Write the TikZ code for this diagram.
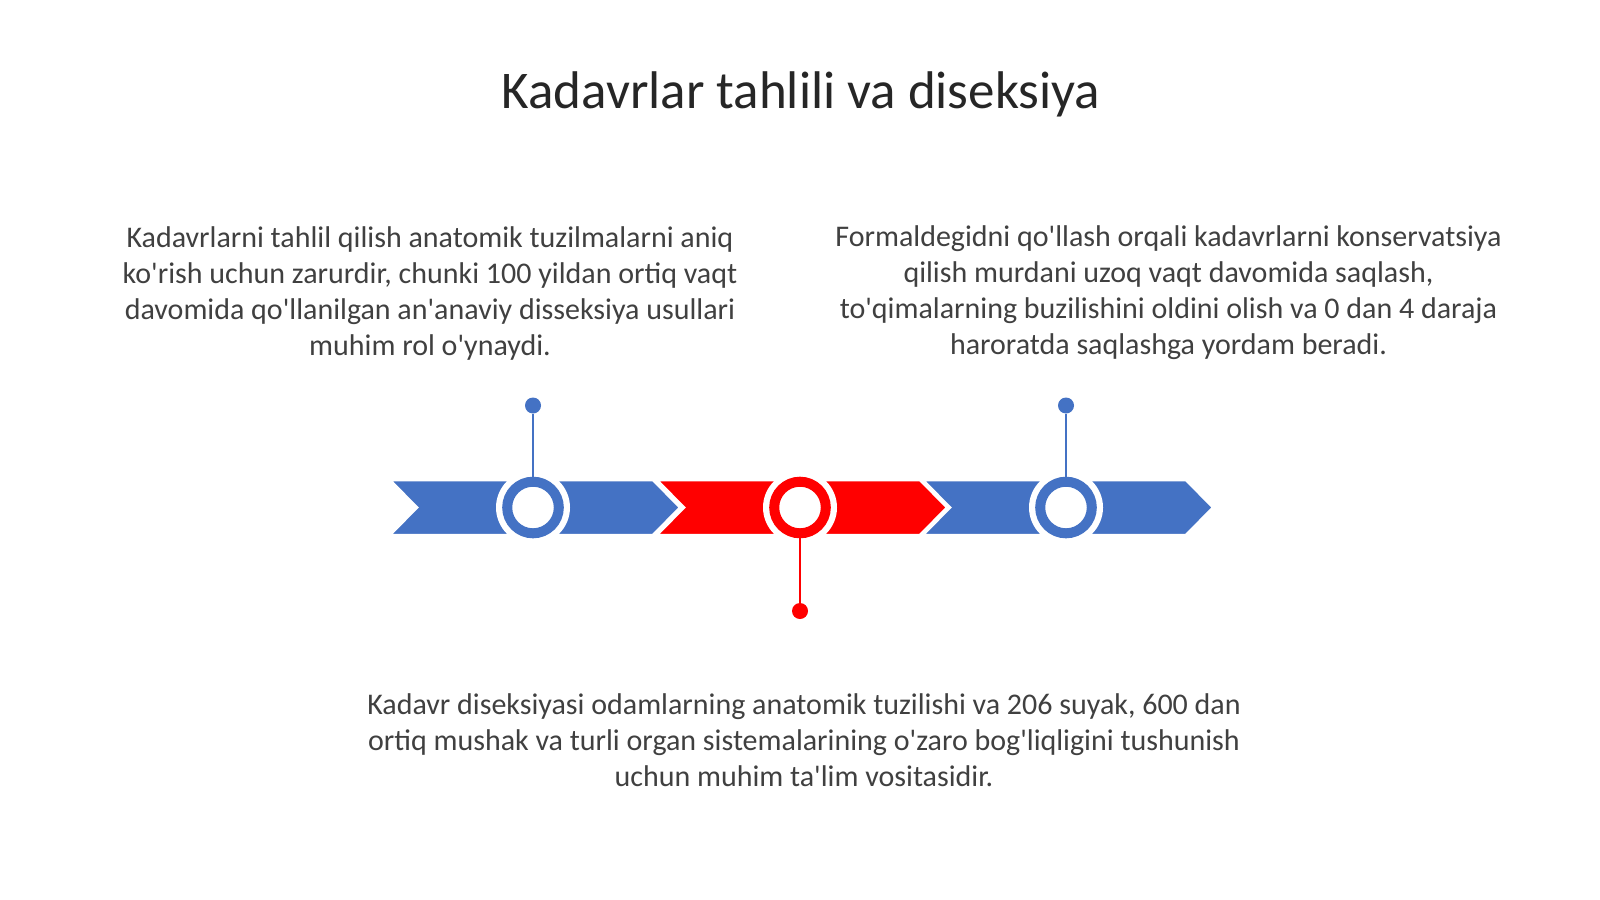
\documentclass[tikz,border=0pt]{standalone}
\usepackage{fontspec}
\setmainfont{Carlito}[Ligatures=TeXOff]
\usetikzlibrary{positioning}
\definecolor{tlblue}{HTML}{4472C4}
\definecolor{tlred}{HTML}{FF0000}
\definecolor{txtgray}{HTML}{404040}
\definecolor{titlegray}{HTML}{262626}

\begin{document}
\begin{tikzpicture}[x=1pt,y=-1pt,
    chevron/.style={draw=white,line width=2.5pt,line join=miter},
    halo/.style={circle,fill=white,minimum size=74pt,inner sep=0pt},
    ring/.style={circle,draw=#1,line width=10pt,fill=white,minimum size=51.6pt,inner sep=0pt},
    pin dot/.style={circle,fill=#1,minimum size=16pt,inner sep=0pt},
    stem/.style={draw=#1,line width=2.7pt},
    body text/.style={align=center,text=txtgray,font=\fontsize{30}{36}\selectfont}]
  \useasboundingbox[fill=white] (0,0) rectangle (1600,899);

  % title
  \node[text=titlegray,font=\fontsize{53}{64}\selectfont] (title) at (801,94) {Kadavrlar tahlili va diseksiya};

  % chevrons
  \path[chevron,fill=tlblue] (390,480) -- (653,480) -- (680,507.5) -- (653,535) -- (390,535) -- (417,507.5) -- cycle;
  \path[chevron,fill=tlred]  (657,480) -- (920,480) -- (947,507.5) -- (920,535) -- (657,535) -- (684,507.5) -- cycle;
  \path[chevron,fill=tlblue] (923,480) -- (1186,480) -- (1213,507.5) -- (1186,535) -- (923,535) -- (950,507.5) -- cycle;

  % markers
  \node[halo] (h1) at (533,507.5) {};
  \node[halo] (h2) at (800,507.5) {};
  \node[halo] (h3) at (1066,507.5) {};
  \node[ring=tlblue] (c1) at (533,507.5) {};
  \node[ring=tlred]  (c2) at (800,507.5) {};
  \node[ring=tlblue] (c3) at (1066,507.5) {};
  \node[pin dot=tlblue] (d1) at (533,405.5) {};
  \node[pin dot=tlred]  (d2) at (800,611) {};
  \node[pin dot=tlblue] (d3) at (1066,405.5) {};
  \draw[stem=tlblue] (c1) -- (d1);
  \draw[stem=tlred]  (c2) -- (d2);
  \draw[stem=tlblue] (c3) -- (d3);

  % texts
  \node[body text] (t1) at (430,293) {Kadavrlarni tahlil qilish anatomik tuzilmalarni aniq\\
    ko'rish uchun zarurdir, chunki 100 yildan ortiq vaqt\\
    davomida qo'llanilgan an'anaviy disseksiya usullari\\
    muhim rol o'ynaydi.};
  \node[body text] (t3) at (1168.5,293) {Formaldegidni qo'llash orqali kadavrlarni konservatsiya\\
    qilish murdani uzoq vaqt davomida saqlash,\\
    to'qimalarning buzilishini oldini olish va 0 dan 4 daraja\\
    haroratda saqlashga yordam beradi.};
  \node[body text] (t2) at (804,740.5) {Kadavr diseksiyasi odamlarning anatomik tuzilishi va 206 suyak, 600 dan\\
    ortiq mushak va turli organ sistemalarining o'zaro bog'liqligini tushunish\\
    uchun muhim ta'lim vositasidir.};
\end{tikzpicture}
\end{document}
